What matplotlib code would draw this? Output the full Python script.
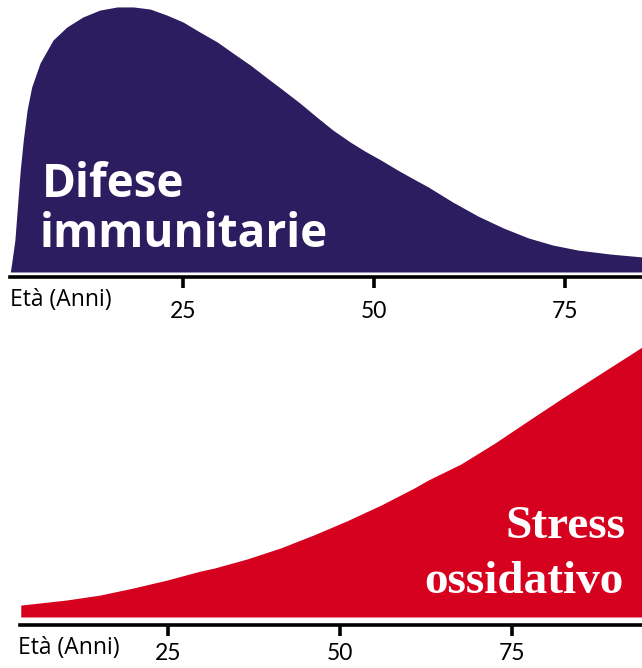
import matplotlib
matplotlib.use('Agg')
import matplotlib.pyplot as plt

# curve (age in years, relative level 0-100)
eta_difese = [2.4, 2.6, 3.0, 3.4, 3.7, 4.1, 4.6, 5.2, 6.3, 8.0, 9.8, 11.9, 14.1,
              16.4, 18.5, 20.7, 22.9, 25.0, 27.2, 29.5, 31.5, 33.8, 36.0, 38.1,
              40.3, 42.5, 44.6, 46.9, 48.8, 50.9, 53.1, 55.2, 57.1, 60.3, 63.6,
              66.9, 70.2, 73.4, 76.7, 80.9, 85.1]
difese = [0, 3.8, 12.1, 27.3, 38.6, 50.0, 61.4, 70.1, 79.2, 87.9, 92.8, 96.6, 99.2,
          100.4, 100.4, 99.6, 97.3, 94.7, 90.9, 87.1, 83.0, 78.4, 73.5, 68.9,
          64.0, 58.7, 53.8, 49.2, 45.8, 42.4, 38.6, 35.2, 32.2, 26.5, 21.2,
          16.7, 12.9, 10.2, 8.3, 6.8, 5.7]

eta_stress = [3.6, 10.3, 15.1, 19.9, 24.9, 29.7, 31.7, 36.5, 41.4, 46.2, 51.0,
              56.0, 60.8, 62.8, 67.6, 72.5, 77.3, 82.1, 87.1, 91.9, 93.9]
stress = [4.4, 6.3, 8.1, 10.7, 13.7, 17.0, 18.1, 21.5, 25.6, 30.4, 35.6,
          41.5, 47.8, 50.7, 56.7, 64.4, 72.6, 80.7, 88.9, 96.7, 100]

ticks = [25, 50, 75]
tick_labels = ['25', '50', '75']

blu = '#2b1d5f'
rosso = '#d6001f'

W, H = 642, 668
fig = plt.figure(figsize=(W / 100, H / 100), dpi=100)

# top panel: axes from pixel 0 to 290
ax1 = fig.add_axes([0, 1 - 290 / H, 1, 290 / H])
ax1.fill_between(eta_difese, difese, 0, color=blu, lw=0)
ax1.set_xlim(1.05, 85.07)
ax1.set_ylim(-6.82, 103.03)

# bottom panel: axes from pixel 340 to 668
ax2 = fig.add_axes([0, 0, 1, 328 / H])
ax2.fill_between(eta_stress, stress, 0, color=rosso, lw=0)
ax2.set_xlim(0.58, 93.9)
ax2.set_ylim(-18.9, 102.6)

for ax, spine_y, x0, pad in [(ax1, -1.9, 2.36, 9), (ax2, -2.96, 3.5, 5)]:
    ax.patch.set_alpha(0)
    for s in ['top', 'left', 'right']:
        ax.spines[s].set_visible(False)
    ax.spines['bottom'].set_position(('data', spine_y))
    ax.spines['bottom'].set_linewidth(2.6)
    ax.spines['bottom'].set_bounds(x0, 100)
    ax.set_yticks([])
    ax.set_xticks(ticks)
    ax.set_xticklabels(tick_labels, family='Lato', fontsize=16.5)
    ax.tick_params(axis='x', direction='out', length=8, width=2.6, pad=pad)

fig.text(10 / W, 1 - 300 / H, 'Età (Anni)', family='Open Sans', fontsize=16.5,
         va='center', ha='left')
fig.text(18 / W, 1 - 648 / H, 'Età (Anni)', family='Open Sans', fontsize=16.5,
         va='center', ha='left')

fig.text(42 / W, 1 - 197 / H, 'Difese', family='Open Sans', weight='bold',
         fontsize=33, color='white', va='baseline', ha='left')
fig.text(40 / W, 1 - 247 / H, 'immunitarie', family='Open Sans', weight='bold',
         fontsize=33, color='white', va='baseline', ha='left')

fig.text(625 / W, 1 - 538 / H, 'Stress', family='Liberation Serif', weight='bold',
         fontsize=34, color='white', va='baseline', ha='right')
fig.text(623 / W, 1 - 593 / H, 'ossidativo', family='Liberation Serif', weight='bold',
         fontsize=34, color='white', va='baseline', ha='right')

plt.savefig('out.png', dpi=100)
